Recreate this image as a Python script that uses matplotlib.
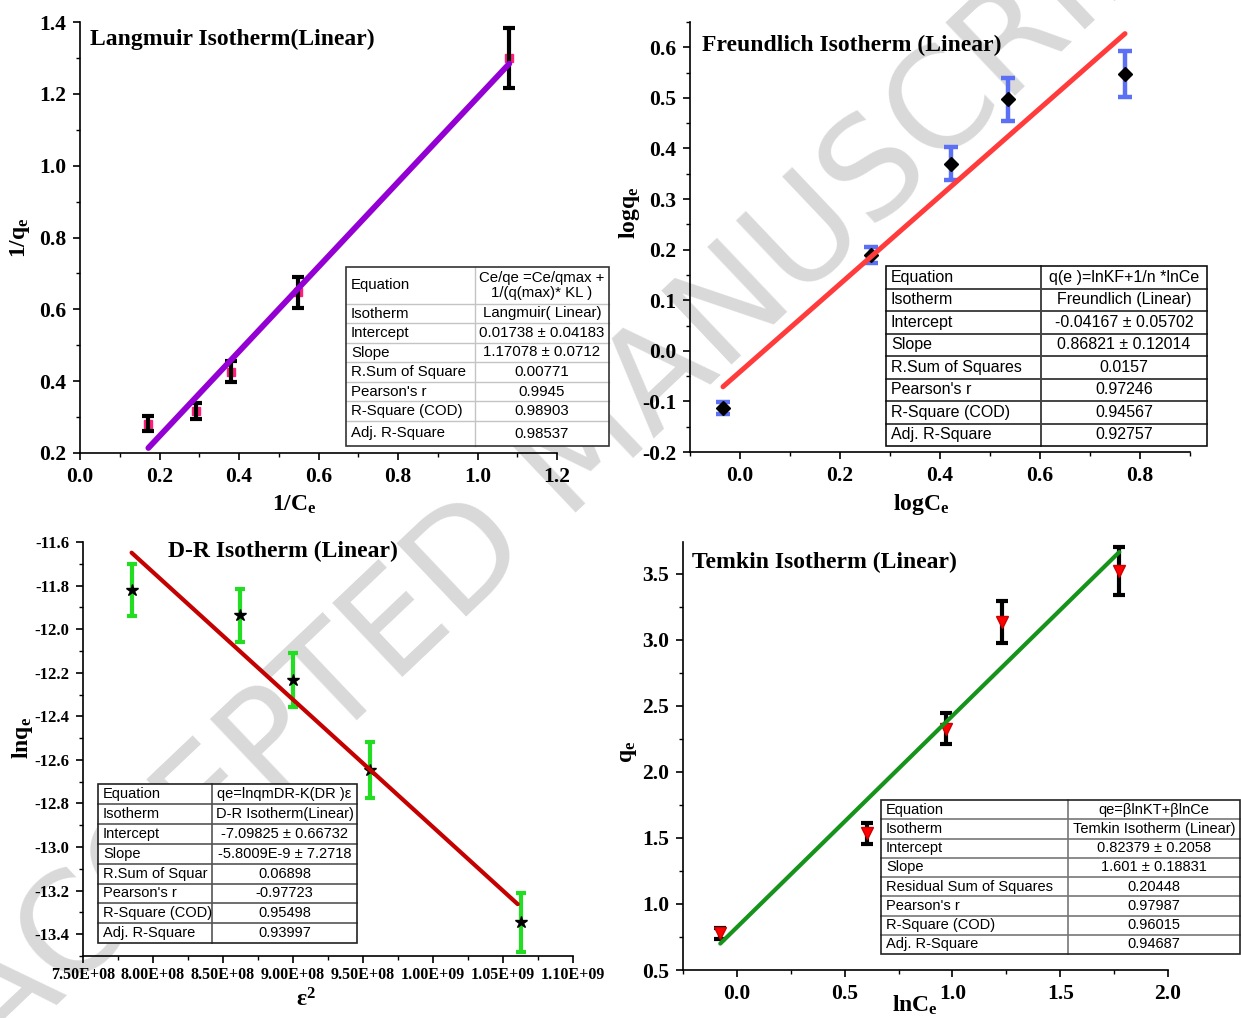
import matplotlib
matplotlib.use('Agg')
import matplotlib.pyplot as plt
from matplotlib.ticker import MultipleLocator, FuncFormatter
from matplotlib.patches import Rectangle

plt.rcParams['font.family'] = ['Liberation Serif', 'DejaVu Serif']
plt.rcParams['mathtext.fontset'] = 'custom'
plt.rcParams['mathtext.rm'] = 'Liberation Serif:bold'
plt.rcParams['mathtext.it'] = 'Liberation Serif:bold'
plt.rcParams['mathtext.bf'] = 'Liberation Serif:bold'
plt.rcParams['axes.unicode_minus'] = False

# ---------------- data ----------------
lang_x = [0.172, 0.292, 0.380, 0.549, 1.080]
lang_y = [0.282, 0.316, 0.426, 0.647, 1.300]
lang_err = [0.020, 0.022, 0.029, 0.043, 0.083]
lang_fit_x = [0.172, 1.080]
lang_fit_y = [0.214, 1.284]

fr_x = [-0.034, 0.261, 0.421, 0.535, 0.770]
fr_y = [-0.113, 0.189, 0.370, 0.497, 0.547]
fr_err = [0.012, 0.016, 0.032, 0.043, 0.046]
fr_fit_x = [-0.034, 0.770]
fr_fit_y = [-0.071, 0.627]

dr_x = [7.847e8, 8.62e8, 9.00e8, 9.55e8, 1.0627e9]
dr_y = [-11.819, -11.937, -12.232, -12.646, -13.346]
dr_err = [0.120, 0.120, 0.124, 0.129, 0.134]
dr_fit_x = [7.847e8, 1.0605e9]
dr_fit_y = [-11.649, -13.262]

tk_x = [-0.077, 0.602, 0.972, 1.232, 1.774]
tk_y = [0.777, 1.534, 2.328, 3.134, 3.520]
tk_err = [0.040, 0.080, 0.120, 0.160, 0.180]
tk_fit_x = [-0.077, 1.774]
tk_fit_y = [0.700, 3.664]

lang_table = [("Equation", "Ce/qe =Ce/qmax +\n1/(q(max)* KL )"),
              ("Isotherm", "Langmuir( Linear)"),
              ("Intercept", "0.01738 \u00b1 0.04183"),
              ("Slope", "1.17078 \u00b1 0.0712"),
              ("R.Sum of Square", "0.00771"),
              ("Pearson's r", "0.9945"),
              ("R-Square (COD)", "0.98903"),
              ("Adj. R-Square", "0.98537")]
fr_table = [("Equation", "q(e )=lnKF+1/n *lnCe"),
            ("Isotherm", "Freundlich (Linear)"),
            ("Intercept", "-0.04167 \u00b1 0.05702"),
            ("Slope", "0.86821 \u00b1 0.12014"),
            ("R.Sum of Squares", "0.0157"),
            ("Pearson's r", "0.97246"),
            ("R-Square (COD)", "0.94567"),
            ("Adj. R-Square", "0.92757")]
dr_table = [("Equation", "qe=lnqmDR-K(DR )\u03b5"),
            ("Isotherm", "D-R Isotherm(Linear)"),
            ("Intercept", "-7.09825 \u00b1 0.66732"),
            ("Slope", "-5.8009E-9 \u00b1 7.2718"),
            ("R.Sum of Squar", "0.06898"),
            ("Pearson's r", "-0.97723"),
            ("R-Square (COD)", "0.95498"),
            ("Adj. R-Square", "0.93997")]
tk_table = [("Equation", "qe=\u03b2lnKT+\u03b2lnCe"),
            ("Isotherm", "Temkin Isotherm (Linear)"),
            ("Intercept", "0.82379 \u00b1 0.2058"),
            ("Slope", "1.601 \u00b1 0.18831"),
            ("Residual Sum of Squares", "0.20448"),
            ("Pearson's r", "0.97987"),
            ("R-Square (COD)", "0.96015"),
            ("Adj. R-Square", "0.94687")]

# ---------------- figure ----------------
W, H = 1241, 1018
fig = plt.figure(figsize=(W / 100, H / 100), dpi=100)
fig.patch.set_facecolor('white')

# watermark (behind everything)
fig.text(0 / W, 1 - 1060 / H, "ACCEPTED MANUSCRIPT", fontsize=100, fontweight='normal',
         family=['DejaVu Sans'], color='#d9d9d9', rotation=43.5, rotation_mode='anchor',
         ha='left', va='baseline', zorder=-5)


def make_ax(l, t, r, b):
    ax = fig.add_axes([l / W, 1 - b / H, (r - l) / W, (b - t) / H])
    ax.set_facecolor('none')
    for s in ('top', 'right'):
        ax.spines[s].set_visible(False)
    for s in ('left', 'bottom'):
        ax.spines[s].set_linewidth(1.2)
    ax.tick_params(which='major', direction='out', length=5, width=1.2, pad=5)
    ax.tick_params(which='minor', direction='out', length=3, width=1.0)
    return ax


def style_ticks(ax, fs, fmtx, fmty):
    ax.xaxis.set_major_formatter(FuncFormatter(fmtx))
    ax.yaxis.set_major_formatter(FuncFormatter(fmty))
    for lab in ax.get_xticklabels() + ax.get_yticklabels():
        lab.set_fontweight('bold')
        lab.set_fontsize(fs)


f1 = lambda v, p: f"{v:.1f}"

# ---- Panel 1: Langmuir ----
ax1 = make_ax(80, 22, 557, 453)
ax1.set_xlim(0, 1.2)
ax1.set_ylim(0.2, 1.4)
ax1.xaxis.set_major_locator(MultipleLocator(0.2))
ax1.xaxis.set_minor_locator(MultipleLocator(0.1))
ax1.yaxis.set_major_locator(MultipleLocator(0.2))
ax1.yaxis.set_minor_locator(MultipleLocator(0.1))
ax1.plot(lang_x, lang_y, ls='none', marker='s', ms=5.5, mfc='#ff1f7a', mec='#ff1f7a', zorder=2)
ax1.errorbar(lang_x, lang_y, yerr=lang_err, fmt='none', ecolor='black', elinewidth=3,
             capsize=4.5, capthick=3, zorder=3)
ax1.plot(lang_fit_x, lang_fit_y, color='#9400d3', lw=4.2, solid_capstyle='round', zorder=4)
style_ticks(ax1, 15.5, f1, f1)
ax1.set_xlabel("1/C$_{e}$", fontsize=17, fontweight='bold', va='center')
ax1.set_ylabel("1/q$_{e}$", fontsize=17, fontweight='bold', va='center')
ax1.xaxis.set_label_coords(0.449, -0.121)
ax1.yaxis.set_label_coords(-0.126, 0.50)

# ---- Panel 2: Freundlich ----
ax2 = make_ax(690, 22, 1190, 452)
ax2.set_xlim(-0.1, 0.9)
ax2.set_ylim(-0.2, 0.65)
ax2.set_xticks([0.0, 0.2, 0.4, 0.6, 0.8])
ax2.xaxis.set_minor_locator(MultipleLocator(0.1))
ax2.set_yticks([-0.2, -0.1, 0.0, 0.1, 0.2, 0.3, 0.4, 0.5, 0.6])
ax2.yaxis.set_minor_locator(MultipleLocator(0.05))
ax2.errorbar(fr_x, fr_y, yerr=fr_err, fmt='none', ecolor='#5b70f5', elinewidth=3.2,
             capsize=5, capthick=3.2, zorder=2)
ax2.plot(fr_x, fr_y, ls='none', marker='D', ms=7, mfc='black', mec='black', zorder=3)
ax2.plot(fr_fit_x, fr_fit_y, color='#ff3b3b', lw=3.6, solid_capstyle='round', zorder=4)
style_ticks(ax2, 15.5, f1, f1)
ax2.set_xlabel("logC$_{e}$", fontsize=17, fontweight='bold', va='center')
ax2.set_ylabel("logq$_{e}$", fontsize=17, fontweight='bold', va='center')
ax2.xaxis.set_label_coords(0.462, -0.123)
ax2.yaxis.set_label_coords(-0.12, 0.556)

# ---- Panel 3: D-R ----
ax3 = make_ax(83, 542, 573, 956)
ax3.set_xlim(7.5e8, 1.1e9)
ax3.set_ylim(-13.5, -11.6)
ax3.xaxis.set_major_locator(MultipleLocator(5e7))
ax3.xaxis.set_minor_locator(MultipleLocator(2.5e7))
ax3.set_yticks([-13.4, -13.2, -13.0, -12.8, -12.6, -12.4, -12.2, -12.0, -11.8, -11.6])
ax3.yaxis.set_minor_locator(MultipleLocator(0.1))
ax3.errorbar(dr_x, dr_y, yerr=dr_err, fmt='none', ecolor='#22dd22', elinewidth=3,
             capsize=3.8, capthick=3, zorder=2)
ax3.plot(dr_x, dr_y, ls='none', marker='*', ms=9, mfc='black', mec='black', zorder=3)
ax3.plot(dr_fit_x, dr_fit_y, color='#c40000', lw=3.0, solid_capstyle='round', zorder=4)
style_ticks(ax3, 11.5, lambda v, p: f"{v:.2E}", f1)
for lab in ax3.get_yticklabels():
    lab.set_fontsize(12)
ax3.tick_params(axis='x', which='major', pad=3)
ax3.set_xlabel("\u03b5$^{2}$", fontsize=17, fontweight='bold', va='center')
ax3.set_ylabel("lnq$_{e}$", fontsize=17, fontweight='bold', va='center')
ax3.xaxis.set_label_coords(0.455, -0.106)
ax3.yaxis.set_label_coords(-0.124, 0.527)

# ---- Panel 4: Temkin ----
ax4 = make_ax(683, 542, 1168, 970)
ax4.set_xlim(-0.25, 2.0)
ax4.set_ylim(0.5, 3.74)
ax4.set_xticks([0.0, 0.5, 1.0, 1.5, 2.0])
ax4.xaxis.set_minor_locator(MultipleLocator(0.25))
ax4.set_yticks([0.5, 1.0, 1.5, 2.0, 2.5, 3.0, 3.5])
ax4.yaxis.set_minor_locator(MultipleLocator(0.25))
ax4.errorbar(tk_x, tk_y, yerr=tk_err, fmt='none', ecolor='black', elinewidth=3,
             capsize=4.5, capthick=3, zorder=2)
ax4.plot(tk_x, tk_y, ls='none', marker='v', ms=8, mfc='#ff0000', mec='#cc0000', zorder=3)
ax4.plot(tk_fit_x, tk_fit_y, color='#16931a', lw=3.0, solid_capstyle='round', zorder=4)
style_ticks(ax4, 15.5, f1, f1)
ax4.set_xlabel("lnC$_{e}$", fontsize=17, fontweight='bold', va='center')
ax4.set_ylabel("q$_{e}$", fontsize=17, fontweight='bold', va='center')
ax4.xaxis.set_label_coords(0.478, -0.082)
ax4.yaxis.set_label_coords(-0.113, 0.509)

# ---------------- overlay: titles & tables ----------------
ov = fig.add_axes([0, 0, 1, 1])
ov.set_xlim(0, W)
ov.set_ylim(H, 0)
ov.axis('off')
ov.set_facecolor('none')

title_kw = dict(fontsize=17, fontweight='bold', ha='left', va='center')
ov.text(90, 39, "Langmuir Isotherm(Linear)", **title_kw)
ov.text(702, 45, "Freundlich Isotherm (Linear)", **title_kw)
ov.text(168, 551, "D-R Isotherm (Linear)", **title_kw)
ov.text(692, 562, "Temkin Isotherm (Linear)", **title_kw)

SANS = ['Liberation Sans', 'DejaVu Sans']


def draw_table(x0, xd, x1, ys, rows, fs, outer='#222222', inner='#999999',
               inner_lw=1.0, outer_lw=1.2, pad=5):
    ov.add_patch(Rectangle((x0, ys[0]), x1 - x0, ys[-1] - ys[0], facecolor='white',
                           edgecolor='none', zorder=1))
    for y in ys[1:-1]:
        ov.plot([x0, x1], [y, y], color=inner, lw=inner_lw, zorder=2)
    ov.plot([xd, xd], [ys[0], ys[-1]], color=inner, lw=inner_lw, zorder=2)
    ov.add_patch(Rectangle((x0, ys[0]), x1 - x0, ys[-1] - ys[0], fill=False,
                           edgecolor=outer, lw=outer_lw, zorder=3))
    for i, (lab, val) in enumerate(rows):
        yc = (ys[i] + ys[i + 1]) / 2
        ov.text(x0 + pad, yc, lab, ha='left', va='center', fontsize=fs, family=SANS, zorder=4)
        ov.text((xd + x1) / 2, yc, val, ha='center', va='center', fontsize=fs,
                family=SANS, linespacing=1.1, zorder=4)


draw_table(346, 475, 609, [267, 304, 323, 343, 362, 382, 401, 421, 446], lang_table, 10.8,
           outer='#333333', inner='#c4c4c4')
draw_table(886, 1041, 1207, [266 + 22.5 * i for i in range(9)], fr_table, 11.5,
           outer='#111111', inner='#444444', inner_lw=1.4)
draw_table(98, 212, 357, [784 + 19.9 * i for i in range(9)], dr_table, 10.5,
           outer='#222222', inner='#555555', inner_lw=1.2)
draw_table(881, 1068, 1240, [800 + 19.25 * i for i in range(9)], tk_table, 10.5,
           outer='#222222', inner='#777777', inner_lw=1.2)

fig.savefig("out.png", dpi=100, facecolor='white')
